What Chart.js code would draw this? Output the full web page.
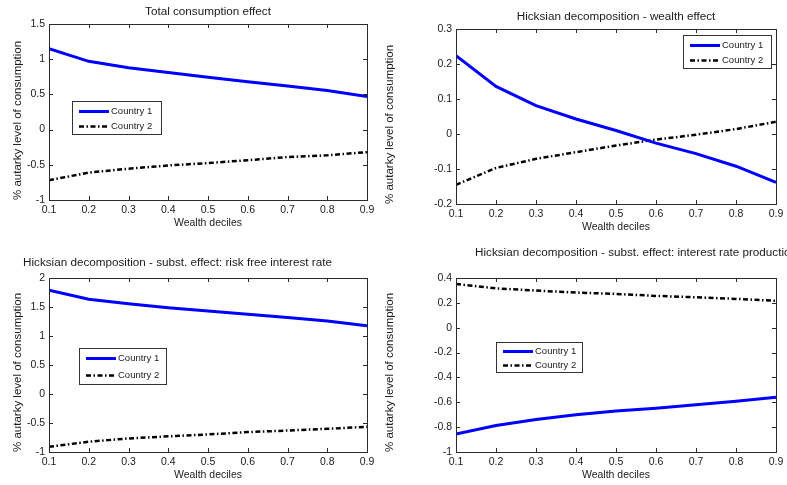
<!DOCTYPE html>
<html>
<head>
<meta charset="utf-8">
<script src="https://cdn.jsdelivr.net/npm/chart.js@4.4.1/dist/chart.umd.min.js"></script>
<style>
  html, body { margin: 0; padding: 0; background: #fff; overflow: hidden; }
  #page { position: relative; width: 787px; height: 485px; overflow: hidden; }
  canvas { position: absolute; }
</style>
</head>
<body>
<div id="page">
  <canvas id="total" width="390" height="240" style="left:0;top:0"></canvas>
  <canvas id="wealth" width="407" height="240" style="left:380px;top:0"></canvas>
  <canvas id="riskfree" width="390" height="245" style="left:0;top:240px"></canvas>
  <canvas id="production" width="407" height="245" style="left:380px;top:240px"></canvas>
</div>
<script>
// x categories: wealth deciles
const deciles = [0.1, 0.2, 0.3, 0.4, 0.5, 0.6, 0.7, 0.8, 0.9];

// Total consumption effect
const totalC1 = [1.15, 0.97, 0.88, 0.81, 0.745, 0.68, 0.62, 0.555, 0.47];
const totalC2 = [-0.72, -0.61, -0.555, -0.51, -0.475, -0.435, -0.39, -0.365, -0.32];

// Hicksian decomposition - wealth effect
const wealthC1 = [0.224, 0.136, 0.081, 0.043, 0.01, -0.026, -0.056, -0.092, -0.138];
const wealthC2 = [-0.145, -0.097, -0.071, -0.052, -0.033, -0.016, -0.002, 0.014, 0.035];

// subst. effect: risk free interest rate
const riskFreeC1 = [1.79, 1.635, 1.555, 1.486, 1.43, 1.377, 1.32, 1.257, 1.177];
const riskFreeC2 = [-0.91, -0.823, -0.766, -0.73, -0.697, -0.657, -0.63, -0.6, -0.566];

// subst. effect: interest rate production
const prodC1 = [-0.856, -0.787, -0.739, -0.7, -0.67, -0.648, -0.62, -0.592, -0.56];
const prodC2 = [0.352, 0.317, 0.299, 0.283, 0.272, 0.256, 0.245, 0.232, 0.216];

// tick values
const xTicks = [0.1, 0.2, 0.3, 0.4, 0.5, 0.6, 0.7, 0.8, 0.9];
const yTicksTotal = [-1, -0.5, 0, 0.5, 1, 1.5];
const yTicksWealth = [-0.2, -0.1, 0, 0.1, 0.2, 0.3];
const yTicksRiskFree = [-1, -0.5, 0, 0.5, 1, 1.5, 2];
const yTicksProd = [-1, -0.8, -0.6, -0.4, -0.2, 0, 0.2, 0.4];

const seriesNames = ['Country 1', 'Country 2'];
const FONT = '"Liberation Sans", Arial, sans-serif';
const TEXT = '#1a1a1a';

// matlab style tick text: 1, 0.5, 0, -1
const tickText = v => String(Math.round(v * 100) / 100);

// matlab style box, inward ticks, title and legend
const matlabAxes = {
  id: 'matlabAxes',
  afterDraw(chart, args, o) {
    const { ctx, chartArea: a, scales: { x, y } } = chart;
    ctx.save();
    ctx.strokeStyle = '#2a2a2a';
    ctx.lineWidth = 1;
    ctx.setLineDash([]);
    ctx.strokeRect(a.left + 0.5, a.top + 0.5, a.right - a.left, a.bottom - a.top);
    ctx.beginPath();
    x.ticks.forEach(t => {
      const px = Math.round(x.getPixelForValue(t.value)) + 0.5;
      ctx.moveTo(px, a.bottom); ctx.lineTo(px, a.bottom - 4);
      ctx.moveTo(px, a.top); ctx.lineTo(px, a.top + 4);
    });
    y.ticks.forEach(t => {
      const py = Math.round(y.getPixelForValue(t.value)) + 0.5;
      ctx.moveTo(a.left, py); ctx.lineTo(a.left + 4, py);
      ctx.moveTo(a.right, py); ctx.lineTo(a.right - 4, py);
    });
    ctx.stroke();

    // title
    ctx.fillStyle = TEXT;
    ctx.font = '11.7px ' + FONT;
    ctx.textBaseline = 'middle';
    if (o.titleAlign === 'center') {
      ctx.textAlign = 'center';
      ctx.fillText(o.title, (a.left + a.right) / 2, a.top + o.titleDy);
    } else {
      ctx.textAlign = 'left';
      ctx.fillText(o.title, a.left + o.titleDx, a.top + o.titleDy);
    }

    // legend
    const g = o.legend;
    const bx = Math.round(a.left + g.dx), by = Math.round(a.top + g.dy);
    ctx.fillStyle = '#fff';
    ctx.fillRect(bx, by, g.w, g.h);
    ctx.strokeStyle = '#333';
    ctx.lineWidth = 1;
    ctx.strokeRect(bx + 0.5, by + 0.5, g.w, g.h);
    ctx.font = '9.5px ' + FONT;
    ctx.textAlign = 'left';
    chart.data.datasets.forEach((ds, i) => {
      const ry = Math.round(by + g.h * (i ? 0.75 : 0.29)) + 0.5;
      ctx.strokeStyle = ds.borderColor;
      ctx.lineWidth = ds.borderWidth;
      ctx.setLineDash(ds.borderDash || []);
      ctx.beginPath();
      ctx.moveTo(bx + 7, ry);
      ctx.lineTo(bx + 37, ry);
      ctx.stroke();
      ctx.setLineDash([]);
      ctx.fillStyle = TEXT;
      ctx.fillText(ds.label, bx + 39, ry);
    });
    ctx.restore();
  }
};

function makeChart(id, c1, c2, yTicks, o) {
  new Chart(document.getElementById(id), {
    type: 'line',
    data: {
      datasets: [
        {
          label: seriesNames[0],
          data: deciles.map((d, i) => ({ x: d, y: c1[i] })),
          borderColor: '#0000ff',
          borderWidth: 3,
          pointRadius: 0,
          tension: 0
        },
        {
          label: seriesNames[1],
          data: deciles.map((d, i) => ({ x: d, y: c2[i] })),
          borderColor: '#000000',
          borderWidth: 2.5,
          borderDash: [5, 2.5, 1.5, 2.5],
          pointRadius: 0,
          tension: 0
        }
      ]
    },
    options: {
      responsive: false,
      animation: false,
      layout: { padding: o.pad },
      plugins: {
        legend: { display: false },
        tooltip: { enabled: false },
        matlabAxes: o
      },
      scales: {
        x: {
          type: 'linear',
          min: 0.1,
          max: 0.9,
          afterBuildTicks: s => { s.ticks = xTicks.map(v => ({ value: v })); },
          afterFit: s => { s.height = 32; s.paddingLeft = 0; s.paddingRight = 0; },
          grid: { display: false, drawTicks: false },
          border: { display: false },
          ticks: { color: TEXT, font: { size: 10.5, family: FONT }, padding: 4, maxRotation: 0, autoSkip: false, callback: tickText },
          title: { display: true, text: 'Wealth deciles', color: TEXT, font: { size: 10.5, family: FONT }, padding: { top: 0, bottom: 2.4 } }
        },
        y: {
          min: yTicks[0],
          max: yTicks[yTicks.length - 1],
          afterBuildTicks: s => { s.ticks = yTicks.map(v => ({ value: v })); },
          afterFit: s => { s.width = o.yWidth; s.paddingTop = 0; s.paddingBottom = 0; },
          grid: { display: false, drawTicks: false },
          border: { display: false },
          ticks: { color: TEXT, font: { size: 10.5, family: FONT }, padding: 4, autoSkip: false, callback: tickText },
          title: { display: true, align: 'start', text: '% autarky level of consumption', color: TEXT, font: { size: 11.5, family: FONT }, padding: { top: o.yTitlePad, bottom: 0 } }
        }
      }
    },
    plugins: [matlabAxes]
  });
}

makeChart('total', totalC1, totalC2, yTicksTotal, {
  pad: { left: 0, top: 24, right: 23, bottom: 8 },
  yWidth: 49, yTitlePad: 11.1,
  title: 'Total consumption effect', titleAlign: 'center', titleDy: -12,
  legend: { dx: 23, dy: 77, w: 89, h: 33 }
});

makeChart('wealth', wealthC1, wealthC2, yTicksWealth, {
  pad: { left: 0, top: 29, right: 11, bottom: 4 },
  yWidth: 76, yTitlePad: 3.1,
  title: 'Hicksian decomposition - wealth effect', titleAlign: 'center', titleDy: -12,
  legend: { dx: 227, dy: 6, w: 88, h: 33 }
});

makeChart('riskfree', riskFreeC1, riskFreeC2, yTicksRiskFree, {
  pad: { left: 0, top: 38, right: 23, bottom: 1 },
  yWidth: 49, yTitlePad: 11.1,
  title: 'Hicksian decomposition - subst. effect: risk free interest rate', titleAlign: 'left', titleDx: -26, titleDy: -15,
  legend: { dx: 30, dy: 70, w: 87, h: 36 }
});

makeChart('production', prodC1, prodC2, yTicksProd, {
  pad: { left: 0, top: 38, right: 11, bottom: 1 },
  yWidth: 76, yTitlePad: 3.1,
  title: 'Hicksian decomposition - subst. effect: interest rate production', titleAlign: 'left', titleDx: 19, titleDy: -25,
  legend: { dx: 40, dy: 64, w: 86, h: 30 }
});
</script>
</body>
</html>
